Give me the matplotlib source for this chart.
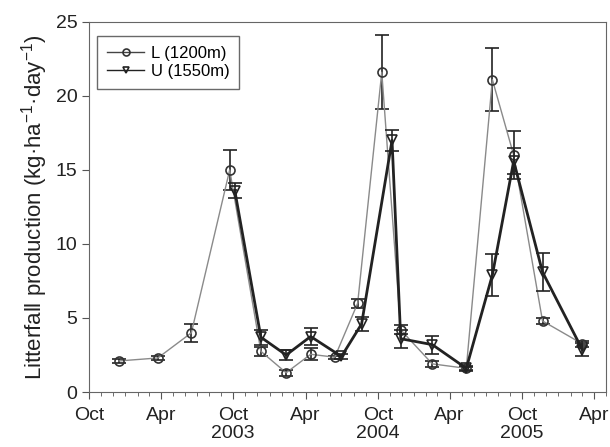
import numpy as np
import matplotlib
matplotlib.use('Agg')
import matplotlib.pyplot as plt
import matplotlib.dates as mdates
from matplotlib.lines import Line2D

plt.rcParams['font.family'] = ['Liberation Sans', 'DejaVu Sans']
plt.rcParams['mathtext.default'] = 'regular'

# L (1200m)
l_dates = ['2002-12-16', '2003-03-24', '2003-06-17', '2003-09-22', '2003-12-10',
           '2004-02-12', '2004-04-14', '2004-06-14', '2004-08-11', '2004-10-11',
           '2004-11-28', '2005-02-16', '2005-05-13', '2005-07-18', '2005-09-10',
           '2005-11-22', '2006-03-03']
l_vals = [2.1, 2.3, 4.0, 15.0, 2.75, 1.3, 2.55, 2.35, 6.0, 21.6,
          4.2, 1.9, 1.6, 21.1, 16.0, 4.8, 3.25]
l_err = [0.15, 0.15, 0.6, 1.35, 0.3, 0.2, 0.4, 0.1, 0.3, 2.5,
         0.3, 0.2, 0.1, 2.15, 1.6, 0.2, 0.2]

# U (1550m)
u_dates = ['2003-10-05', '2003-12-10', '2004-02-12', '2004-04-14', '2004-07-01',
           '2004-08-21', '2004-11-06', '2004-11-28', '2005-02-16', '2005-05-13',
           '2005-07-18', '2005-09-10', '2005-11-22', '2006-03-03']
u_vals = [13.6, 3.7, 2.5, 3.75, 2.4, 4.6, 17.0, 3.6, 3.2, 1.6,
          7.9, 15.6, 8.1, 2.85]
u_err = [0.5, 0.5, 0.35, 0.6, 0.15, 0.45, 0.7, 0.6, 0.6, 0.15,
         1.4, 0.9, 1.3, 0.45]

tick_labels = ['Oct', 'Apr', 'Oct\n2003', 'Apr', 'Oct\n2004', 'Apr', 'Oct\n2005', 'Apr']

l_x = [np.datetime64(d) for d in l_dates]
u_x = [np.datetime64(d) for d in u_dates]

fig = plt.figure(figsize=(6.1, 4.47), dpi=100)
ax = fig.add_axes([0.146, 0.123, 0.847, 0.828])

l_style = dict(color='#8a8a8a', lw=1.0, marker='o', ms=6.5, mfc='none',
               mec='#333333', mew=1.2)
u_style = dict(color='#222222', lw=2.0, marker='v', ms=6.5, mfc='none',
               mec='#222222', mew=1.2)

ax.errorbar(l_x, l_vals, yerr=l_err, ecolor='#222222', elinewidth=1.2,
            capsize=5, capthick=1.2, zorder=3, **l_style)
ax.errorbar(u_x, u_vals, yerr=u_err, ecolor='#222222', elinewidth=1.2,
            capsize=5, capthick=1.2, zorder=4, **u_style)

ax.set_xlim(np.datetime64('2002-10-01'), np.datetime64('2006-05-01'))
ax.set_ylim(0, 25)
ax.set_yticks([0, 5, 10, 15, 20, 25])
ax.xaxis.set_major_locator(mdates.MonthLocator(bymonth=[4, 10]))
ax.xaxis.set_minor_locator(mdates.MonthLocator())
ax.set_xticks(ax.get_xticks())
ax.set_xticklabels(tick_labels, linespacing=1.05)
ax.tick_params(axis='both', which='major', labelsize=14, length=5, color='#555555',
               labelcolor='#222222')
ax.tick_params(axis='x', which='major', pad=6)
ax.tick_params(axis='x', which='minor', length=3, color='#555555')
for s in ax.spines.values():
    s.set_color('#666666')

ax.set_ylabel('Litterfall production (kg·ha$^{-1}$·day$^{-1}$)', fontsize=16,
              color='#222222', labelpad=4)

handles = [Line2D([], [], **dict(l_style, color='#444444', ms=5)),
           Line2D([], [], **dict(u_style, lw=1.0, ms=5))]
leg = ax.legend(handles, ['L (1200m)', 'U (1550m)'], loc='upper left',
                bbox_to_anchor=(0.0, 0.985), fontsize=12,
                frameon=True, fancybox=False, edgecolor='#444444', handlelength=2.2,
                borderpad=0.6, labelspacing=0.2, handletextpad=0.4)
leg.get_frame().set_linewidth(1.0)

fig.savefig('out.png', dpi=100)
